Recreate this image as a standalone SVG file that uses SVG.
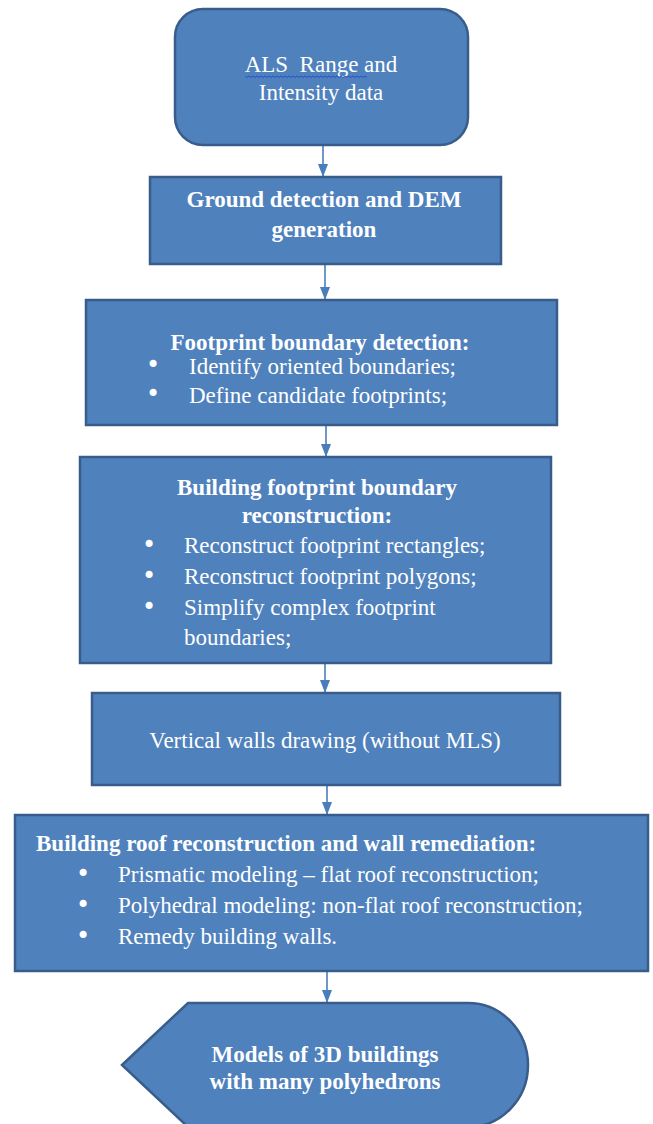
<svg xmlns="http://www.w3.org/2000/svg" width="653" height="1124" viewBox="0 0 653 1124">
<style>
.box{fill:#4f81bd;stroke:#385d8a;stroke-width:2.5}
.t{font-family:"Liberation Serif","Times New Roman",serif;font-size:23px;fill:#ffffff}
.b{font-weight:bold}
.c{text-anchor:middle}
.bu{font-family:"DejaVu Sans",sans-serif;font-size:24px;fill:#ffffff;text-anchor:middle}
.conn{stroke:#4a7ebb;stroke-width:1.6;fill:none}
</style>
<defs>
<marker id="arr" viewBox="0 0 13 10" refX="13" refY="5" markerWidth="13" markerHeight="10" markerUnits="userSpaceOnUse" orient="auto">
<path d="M0,0 L13,5 L0,10 Z" fill="#4a7ebb"/>
</marker>
</defs>
<rect width="653" height="1124" fill="#ffffff"/>
<g id="connectors">
<line class="conn" x1="323" y1="146" x2="323" y2="177" marker-end="url(#arr)"/>
<line class="conn" x1="325" y1="265" x2="325" y2="300" marker-end="url(#arr)"/>
<line class="conn" x1="326" y1="426" x2="326" y2="457" marker-end="url(#arr)"/>
<line class="conn" x1="325" y1="664" x2="325" y2="693" marker-end="url(#arr)"/>
<line class="conn" x1="327" y1="786" x2="327" y2="815" marker-end="url(#arr)"/>
<line class="conn" x1="327" y1="972" x2="327" y2="1003" marker-end="url(#arr)"/>
</g>
<g id="n1">
<rect class="box" x="175" y="9" width="293" height="136" rx="28" ry="28"/>
<text class="t c" x="321" y="72">ALS&#160; Range and</text>
<path d="M245,76 l2,1.5 l2,-1.5 l2,1.5 l2,-1.5 l2,1.5 l2,-1.5 l2,1.5 l2,-1.5 l2,1.5 l2,-1.5 l2,1.5 l2,-1.5 l2,1.5 l2,-1.5 l2,1.5 l2,-1.5 l2,1.5 l2,-1.5 l2,1.5 l2,-1.5 l2,1.5 l2,-1.5 l2,1.5 l2,-1.5 l2,1.5 l2,-1.5 l2,1.5 l2,-1.5 l2,1.5 l2,-1.5 l2,1.5 l2,-1.5 l2,1.5 l2,-1.5 l2,1.5 l2,-1.5 l2,1.5 l2,-1.5 l2,1.5 l2,-1.5 l2,1.5 l2,-1.5 l2,1.5 l2,-1.5 l2,1.5 l2,-1.5 l2,1.5 l2,-1.5 l2,1.5 l2,-1.5 l2,1.5 l2,-1.5 l2,1.5 l2,-1.5 l2,1.5 l2,-1.5 l2,1.5 l2,-1.5 l2,1.5 l2,-1.5 l2,1.5" fill="none" stroke="#2b4fd0" stroke-width="1"/>
<text class="t c" x="321" y="100">Intensity data</text>
</g>
<g id="n2">
<rect class="box" x="150" y="177" width="351" height="87"/>
<text class="t b c" x="324" y="207">Ground detection and DEM</text>
<text class="t b c" x="324" y="237">generation</text>
</g>
<g id="n3">
<rect class="box" x="86" y="300" width="471" height="125"/>
<text class="t b c" x="320" y="350">Footprint boundary detection:</text>
<text class="bu" x="153" y="373">•</text>
<text class="t" x="189" y="374">Identify oriented boundaries;</text>
<text class="bu" x="153" y="402">•</text>
<text class="t" x="189" y="403">Define candidate footprints;</text>
</g>
<g id="n4">
<rect class="box" x="80" y="457" width="471" height="206"/>
<text class="t b c" x="317" y="495">Building footprint boundary</text>
<text class="t b c" x="317" y="523">reconstruction:</text>
<text class="bu" x="149" y="553">•</text>
<text class="t" x="184" y="553">Reconstruct footprint rectangles;</text>
<text class="bu" x="149" y="584">•</text>
<text class="t" x="184" y="584">Reconstruct footprint polygons;</text>
<text class="bu" x="149" y="615">•</text>
<text class="t" x="184" y="615">Simplify complex footprint</text>
<text class="t" x="184" y="645">boundaries;</text>
</g>
<g id="n5">
<rect class="box" x="92" y="693" width="468" height="92"/>
<text class="t c" x="325" y="748">Vertical walls drawing (without MLS)</text>
</g>
<g id="n6">
<rect class="box" x="15" y="815" width="633" height="156"/>
<text class="t b" x="36" y="851">Building roof reconstruction and wall remediation:</text>
<text class="bu" x="83" y="882">•</text>
<text class="t" x="118" y="882">Prismatic modeling – flat roof reconstruction;</text>
<text class="bu" x="83" y="913">•</text>
<text class="t" x="118" y="913">Polyhedral modeling: non-flat roof reconstruction;</text>
<text class="bu" x="83" y="944">•</text>
<text class="t" x="118" y="944">Remedy building walls.</text>
</g>
<g id="n7">
<path class="box" d="M122,1065 L188,1003 L468,1003 A60,62 0 0 1 468,1127 L188,1127 Z"/>
<text class="t b c" x="325" y="1062">Models of 3D buildings</text>
<text class="t b c" x="325" y="1089">with many polyhedrons</text>
</g>
</svg>
